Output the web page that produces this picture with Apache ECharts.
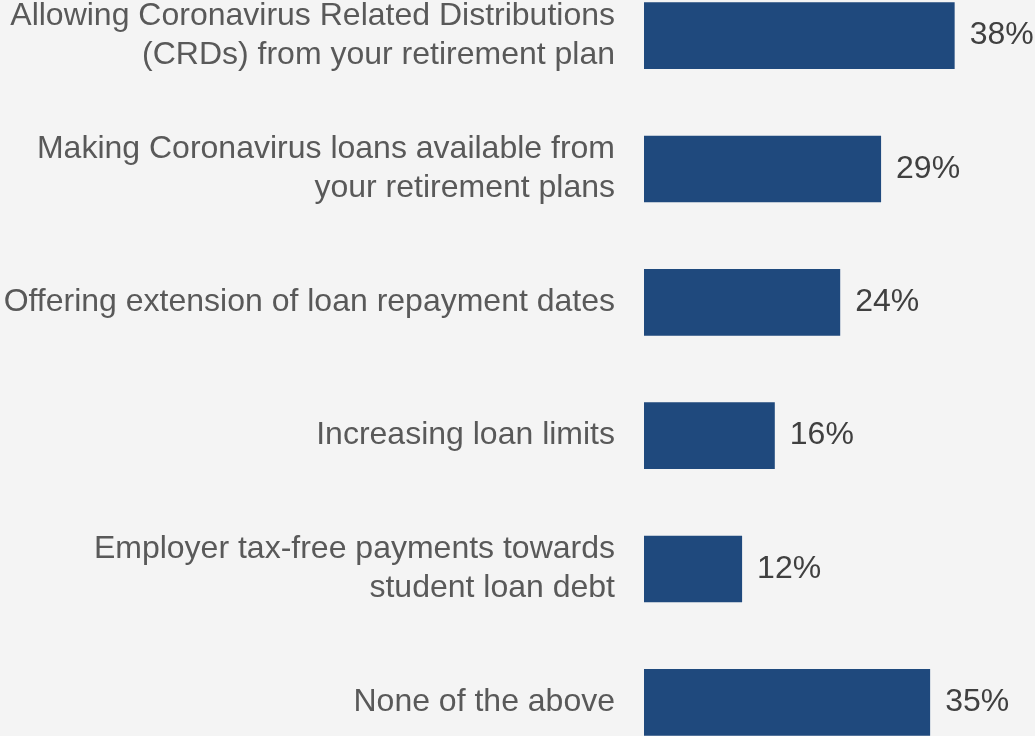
<!DOCTYPE html>
<html>
<head>
<meta charset="utf-8">
<script src="https://cdn.jsdelivr.net/npm/echarts@6/dist/echarts.min.js"></script>
<style>
  html, body { margin: 0; padding: 0; background: #f4f4f4; overflow: hidden; }
  /* plot area extends a little beyond the visible page at top and bottom */
  #chart { width: 1035px; height: 800px; margin-top: -31px; }
</style>
</head>
<body>
<div id="chart"></div>
<script>
// Survey responses: retirement-plan relief measures offered
const categories = [
  'Allowing Coronavirus Related Distributions\n(CRDs) from your retirement plan',
  'Making Coronavirus loans available from\nyour retirement plans',
  'Offering extension of loan repayment dates',
  'Increasing loan limits',
  'Employer tax-free payments towards\nstudent loan debt',
  'None of the above'
];
const shares = [38, 29, 24, 16, 12, 35];

const chart = echarts.init(document.getElementById('chart'), null, { renderer: 'canvas' });

chart.setOption({
  backgroundColor: '#f4f4f4',
  animation: false,
  grid: { left: 644, top: 0, width: 327, height: 800, containLabel: false },
  xAxis: {
    type: 'value', min: 0, max: 40,
    show: false
  },
  yAxis: {
    type: 'category',
    inverse: true,
    data: categories,
    axisLine: { show: false },
    axisTick: { show: false },
    splitLine: { show: false },
    axisLabel: {
      margin: 29,
      align: 'right',
      fontFamily: 'Liberation Sans, Arial, sans-serif',
      fontSize: 32,
      lineHeight: 39,
      color: '#595959'
    }
  },
  series: [{
    type: 'bar',
    data: shares,
    barWidth: '50%',
    itemStyle: { color: '#1f497d' },
    label: {
      show: true,
      position: 'right',
      distance: 15,
      formatter: '{c}%',
      fontFamily: 'Liberation Sans, Arial, sans-serif',
      fontSize: 32,
      color: '#404040'
    }
  }]
});
</script>
</body>
</html>
